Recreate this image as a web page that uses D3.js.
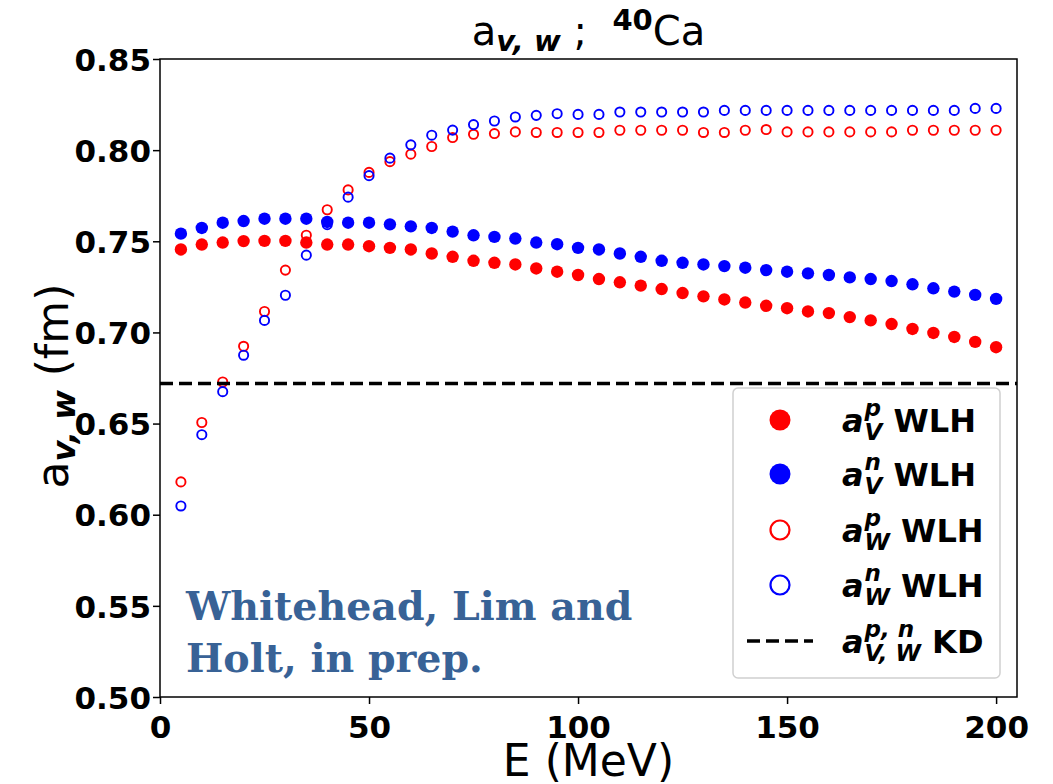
<!DOCTYPE html>
<html>
<head>
<meta charset="utf-8">
<script src="https://cdn.jsdelivr.net/npm/d3@7"></script>
<style>
  html, body { margin: 0; padding: 0; background: #fff; }
  svg { display: block; font-family: "DejaVu Sans", sans-serif; }
</style>
</head>
<body>
<svg id="chart" width="1053" height="784"></svg>
<script>
// energies (MeV)
const energies = [5, 10, 15, 20, 25, 30, 35, 40, 45, 50, 55, 60, 65, 70, 75, 80, 85, 90, 95, 100,
  105, 110, 115, 120, 125, 130, 135, 140, 145, 150, 155, 160, 165, 170, 175, 180, 185, 190, 195, 200];

// a_V^p WLH (filled red)
const aVp = [0.7455, 0.7482, 0.7493, 0.7501, 0.7502, 0.7502, 0.7493, 0.7482, 0.7482, 0.7473,
  0.7464, 0.7455, 0.7433, 0.7415, 0.7393, 0.7382, 0.7373, 0.7351, 0.7333, 0.7315,
  0.7293, 0.7275, 0.7257, 0.7238, 0.7216, 0.7198, 0.7181, 0.7164, 0.7146, 0.7133,
  0.7115, 0.7106, 0.7084, 0.7066, 0.7046, 0.7019, 0.6997, 0.6975, 0.6948, 0.6919];

// a_V^n WLH (filled blue)
const aVn = [0.7542, 0.7573, 0.7602, 0.7611, 0.7624, 0.7624, 0.7624, 0.7606, 0.7602, 0.7602,
  0.7593, 0.7582, 0.7573, 0.7553, 0.7533, 0.7524, 0.7515, 0.7493, 0.7484, 0.7464,
  0.7455, 0.7433, 0.7415, 0.7393, 0.7382, 0.7373, 0.7364, 0.7355, 0.7342, 0.7333,
  0.7324, 0.7315, 0.7302, 0.7293, 0.7282, 0.7264, 0.7242, 0.7224, 0.7206, 0.7184];

// a_W^p WLH (open red)
const aWp = [0.6180, 0.6506, 0.6728, 0.6924, 0.7115, 0.7342, 0.7533, 0.7673, 0.7782, 0.7878,
  0.7937, 0.7978, 0.8020, 0.8069, 0.8087, 0.8091, 0.8100, 0.8097, 0.8097, 0.8097,
  0.8097, 0.8109, 0.8109, 0.8109, 0.8109, 0.8097, 0.8097, 0.8109, 0.8113, 0.8100,
  0.8100, 0.8100, 0.8100, 0.8100, 0.8100, 0.8109, 0.8109, 0.8109, 0.8109, 0.8109];

// a_W^n WLH (open blue)
const aWn = [0.6048, 0.6439, 0.6675, 0.6875, 0.7066, 0.7204, 0.7424, 0.7591, 0.7742, 0.7860,
  0.7956, 0.8029, 0.8082, 0.8110, 0.8140, 0.8160, 0.8182, 0.8191, 0.8200, 0.8196,
  0.8196, 0.8209, 0.8209, 0.8209, 0.8209, 0.8209, 0.8218, 0.8218, 0.8218, 0.8218,
  0.8218, 0.8218, 0.8218, 0.8218, 0.8218, 0.8218, 0.8218, 0.8218, 0.8229, 0.8229];

// KD value (dashed line)
const aKD = 0.672;

const xTicks = [0, 50, 100, 150, 200];
const yTicks = [0.50, 0.55, 0.60, 0.65, 0.70, 0.75, 0.80, 0.85];

const svg = d3.select("#chart");
const plotLeft = 160, plotRight = 1017, plotTop = 59, plotBottom = 697;

const x = d3.scaleLinear().domain([0, 205]).range([plotLeft, plotRight]);
const y = d3.scaleLinear().domain([0.5, 0.85]).range([plotBottom, plotTop]);

// axes
const xAxis = svg.append("g")
  .attr("transform", `translate(0,${plotBottom})`)
  .call(d3.axisBottom(x).tickValues(xTicks).tickFormat(d3.format("d")).tickSizeOuter(0).tickSize(7).tickPadding(5));
const yAxis = svg.append("g")
  .attr("transform", `translate(${plotLeft},0)`)
  .call(d3.axisLeft(y).tickValues(yTicks).tickFormat(d3.format(".2f")).tickSizeOuter(0).tickSize(7).tickPadding(2));
[xAxis, yAxis].forEach(g => {
  g.attr("font-family", "'DejaVu Sans', sans-serif");
  g.select(".domain").remove();
  g.selectAll(".tick line").attr("stroke", "#000").attr("stroke-width", 1.5);
  g.selectAll(".tick text")
    .attr("fill", "#000")
    .style("font-size", "31px")
    .style("font-weight", "bold");
});
xAxis.selectAll(".tick text").attr("dy", "0.95em");
yAxis.selectAll(".tick text").attr("dy", "0.36em");

// series
const series = [
  {values: aVp, color: "red", filled: true},
  {values: aVn, color: "blue", filled: true},
  {values: aWp, color: "red", filled: false},
  {values: aWn, color: "blue", filled: false}
];
series.forEach(s => {
  svg.append("g").selectAll("circle")
    .data(energies.map((e, i) => ({e: e, v: s.values[i]})))
    .enter().append("circle")
    .attr("cx", d => x(d.e))
    .attr("cy", d => y(d.v))
    .attr("r", s.filled ? 6.2 : 4.6)
    .attr("fill", s.filled ? s.color : "none")
    .attr("stroke", s.filled ? "none" : s.color)
    .attr("stroke-width", 1.9);
});

// KD dashed line
svg.append("line")
  .attr("x1", plotLeft).attr("x2", plotRight)
  .attr("y1", y(aKD)).attr("y2", y(aKD))
  .attr("stroke", "#000")
  .attr("stroke-width", 3.5)
  .attr("stroke-dasharray", "13 6");

// frame
svg.append("rect")
  .attr("x", plotLeft).attr("y", plotTop)
  .attr("width", plotRight - plotLeft).attr("height", plotBottom - plotTop)
  .attr("fill", "none").attr("stroke", "#000").attr("stroke-width", 1.5);

// annotation
const note = svg.append("text")
  .attr("font-family", "'DejaVu Serif', serif")
  .attr("font-weight", "bold")
  .attr("font-size", 39.5)
  .attr("fill", "#386296");
note.append("tspan").attr("x", 186).attr("y", 620).text("Whitehead, Lim and");
note.append("tspan").attr("x", 186).attr("y", 672).text("Holt, in prep.");

// helper: write pieces of text in a row, returns end x
function pieces(g, x0, y0, parts) {
  let cx = x0;
  parts.forEach(p => {
    if (p.stack) {
      let w = 0;
      p.stack.forEach(q => {
        const t = g.append("text")
          .attr("x", cx).attr("y", y0 + q.dy)
          .attr("font-size", q.size)
          .attr("font-weight", q.weight || "normal")
          .attr("font-style", q.style || "normal")
          .style("white-space", "pre")
          .text(q.text);
        w = Math.max(w, t.node().getComputedTextLength());
      });
      cx += w;
    } else {
      const t = g.append("text")
        .attr("x", cx).attr("y", y0 + (p.dy || 0))
        .attr("font-size", p.size)
        .attr("font-weight", p.weight || "normal")
        .attr("font-style", p.style || "normal")
        .style("white-space", "pre")
        .text(p.text);
      cx += t.node().getComputedTextLength() + (p.gap || 0);
    }
  });
  return cx;
}

// title (measured then centred)
const titleG = svg.append("g");
const titleEnd = pieces(titleG, 0, 45, [
  {text: "a", size: 40},
  {text: "v, w", size: 29, weight: "bold", style: "italic", dy: 6},
  {text: " ;  ", size: 40},
  {text: "40", size: 29, weight: "bold", dy: -15},
  {text: "Ca", size: 40}
]);
titleG.attr("transform", `translate(${(plotLeft + plotRight) / 2 - titleEnd / 2},0)`);

// x label
svg.append("text")
  .attr("x", (plotLeft + plotRight) / 2).attr("y", 776)
  .attr("text-anchor", "middle")
  .attr("font-size", 44)
  .text("E (MeV)");

// y label (rotated)
const yl = svg.append("text")
  .attr("transform", "translate(68,386) rotate(-90)")
  .attr("text-anchor", "middle")
  .attr("font-size", 44)
  .style("white-space", "pre");
yl.append("tspan").text("a");
yl.append("tspan").attr("font-size", 32).attr("font-weight", "bold").attr("font-style", "italic").attr("dy", 7).text("v, w");
yl.append("tspan").attr("dy", -7).text(" (fm)");

// legend
const leg = svg.append("g");
leg.append("rect")
  .attr("x", 733).attr("y", 388).attr("width", 267).attr("height", 290)
  .attr("rx", 5)
  .attr("fill", "#fff").attr("fill-opacity", 0.8)
  .attr("stroke", "#d0d0d0").attr("stroke-width", 1.5);

const legendRows = [
  {sup: "p", sub: "V", tail: "WLH", color: "red", filled: true, cy: 420},
  {sup: "n", sub: "V", tail: "WLH", color: "blue", filled: true, cy: 474},
  {sup: "p", sub: "W", tail: "WLH", color: "red", filled: false, cy: 530},
  {sup: "n", sub: "W", tail: "WLH", color: "blue", filled: false, cy: 585},
  {sup: "p, n", sub: "V, W", tail: "KD", line: true, cy: 641}
];
legendRows.forEach(r => {
  if (r.line) {
    leg.append("line")
      .attr("x1", 747).attr("x2", 813)
      .attr("y1", r.cy).attr("y2", r.cy)
      .attr("stroke", "#000").attr("stroke-width", 3.5)
      .attr("stroke-dasharray", "13 6");
  } else {
    leg.append("circle")
      .attr("cx", 780).attr("cy", r.cy)
      .attr("r", r.filled ? 10.5 : 9.5)
      .attr("fill", r.filled ? r.color : "none")
      .attr("stroke", r.filled ? "none" : r.color)
      .attr("stroke-width", 2.2);
  }
  const g = leg.append("g");
  pieces(g, 842, r.cy + 12, [
    {text: "a", size: 32, weight: "bold", style: "italic", gap: 1},
    {stack: [
      {text: r.sup, size: 23, weight: "bold", style: "italic", dy: -16},
      {text: r.sub, size: 23, weight: "bold", style: "italic", dy: 8}
    ]},
    {text: " " + r.tail, size: 32, weight: "bold"}
  ]);
});
</script>
</body>
</html>
